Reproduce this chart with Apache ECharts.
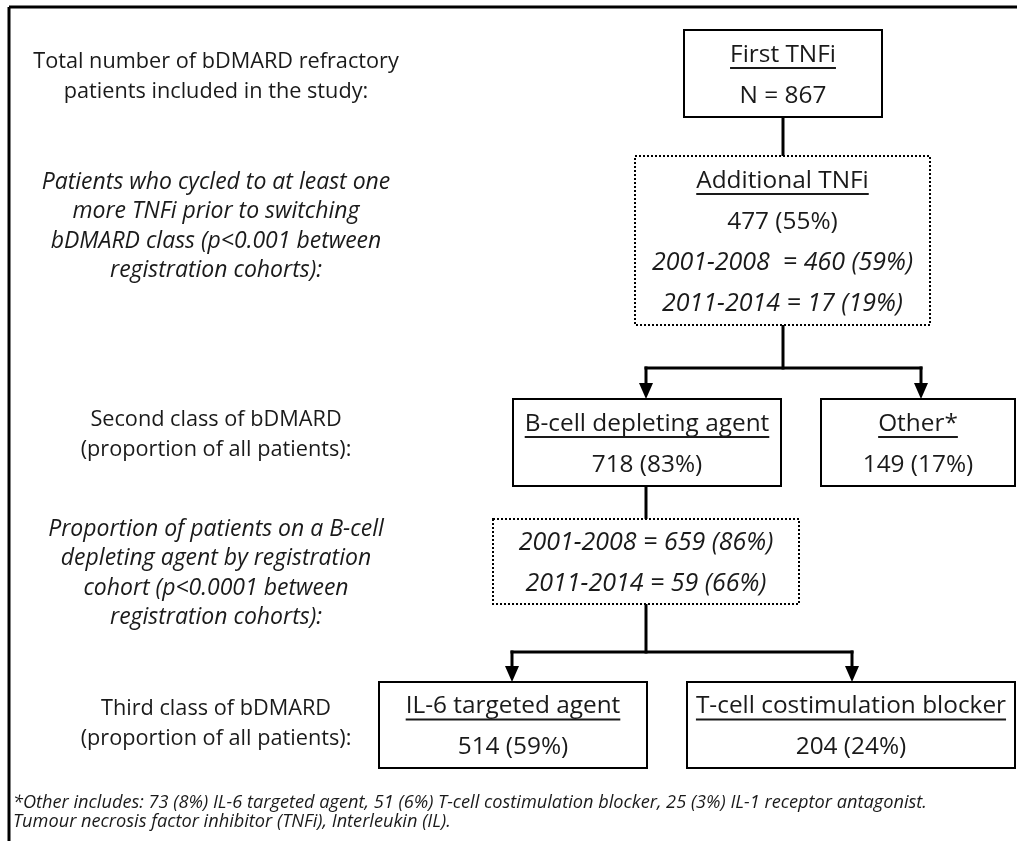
<!DOCTYPE html>
<html>
<head>
<meta charset="utf-8">
<title>bDMARD flow</title>
<script src="https://cdn.jsdelivr.net/npm/echarts@6/dist/echarts.min.js"></script>
<style>
  html, body { margin: 0; padding: 0; background: #fff; }
  #main { width: 1017px; height: 841px; }
</style>
</head>
<body>
<div id="main"></div>
<script>
// ---- data ----
// left column captions (one entry per stage)
var stageText = [
  ['Total number of bDMARD refractory', 'patients included in the study:'],
  ['Patients who cycled to at least one', 'more TNFi prior to switching', 'bDMARD class (p<0.001 between', 'registration cohorts):'],
  ['Second class of bDMARD', '(proportion of all patients):'],
  ['Proportion of patients on a B-cell', 'depleting agent by registration', 'cohort (p<0.0001 between', 'registration cohorts):'],
  ['Third class of bDMARD', '(proportion of all patients):']
]
var stageItalic = [false, true, false, true, false]

// boxes of the flow
var boxTitle = ['First TNFi', 'Additional TNFi', 'B-cell depleting agent', 'Other*', '', 'IL-6 targeted agent', 'T-cell costimulation blocker']
var boxN = [867, 477, 718, 149, null, 514, 204]
var boxPct = [null, 55, 83, 17, null, 59, 24]
// registration cohort breakdown 2001-2008 / 2011-2014
var cohortEarly = [null, [460, 59], null, null, [659, 86], null, null]
var cohortLate = [null, [17, 19], null, null, [59, 66], null, null]

var footnote = [
  '*Other includes: 73 (8%) IL-6 targeted agent, 51 (6%) T-cell costimulation blocker, 25 (3%) IL-1 receptor antagonist.',
  'Tumour necrosis factor inhibitor (TNFi), Interleukin (IL).'
]

// ---- layout (pixels, page coords) ----
var boxRect = [
  [684, 30, 882, 117],
  [635, 156, 930, 325],
  [513, 399, 781, 486],
  [821, 399, 1015, 486],
  [493, 519, 799, 604],
  [379, 682, 647, 768],
  [687, 682, 1015, 768]
]
var boxDotted = [false, true, false, false, true, false, false]
var stageY = [62, 182, 420, 529, 709]
var connectors = [
  // [x1, y1, x2, y2, arrow]
  [783, 117, 783, 156, 0],
  [783, 325, 783, 368, 0],
  [646, 368, 921, 368, 0],
  [646, 368, 646, 399, 1],
  [921, 368, 921, 399, 1],
  [646, 486, 646, 519, 0],
  [646, 604, 646, 652, 0],
  [512, 652, 852, 652, 0],
  [512, 652, 512, 682, 1],
  [852, 652, 852, 682, 1]
]

var FONT = '"Open Sans", "Noto Sans", sans-serif'
var measureCtx = document.createElement('canvas').getContext('2d')
function textWidth(str, font) {
  measureCtx.font = font
  return measureCtx.measureText(str).width
}

function boxLines(i) {
  var lines = []
  if (boxTitle[i]) lines.push({ text: boxTitle[i], underline: true, italic: false })
  if (boxN[i] != null) {
    var t = i === 0 ? 'N = ' + boxN[i] : boxN[i] + ' (' + boxPct[i] + '%)'
    lines.push({ text: t, underline: false, italic: false })
  }
  if (cohortEarly[i]) {
    var sep = i === 1 ? '  = ' : ' = '
    lines.push({ text: '2001-2008' + sep + cohortEarly[i][0] + ' (' + cohortEarly[i][1] + '%)', italic: true })
    lines.push({ text: '2011-2014 = ' + cohortLate[i][0] + ' (' + cohortLate[i][1] + '%)', italic: true })
  }
  return lines
}

var chart = echarts.init(document.getElementById('main'), null, { renderer: 'canvas' })

var boxData = boxRect.map(function (r, i) { return [r[0], r[1], r[2], r[3], i] })
var stageData = stageY.map(function (y, i) { return [216, y, i] })

chart.setOption({
  animation: false,
  backgroundColor: '#fff',
  grid: { left: 0, right: 0, top: 0, bottom: 0 },
  xAxis: { type: 'value', min: 0, max: 1017, show: false },
  yAxis: { type: 'value', min: 0, max: 841, inverse: true, show: false },
  graphic: [
    // frame (top and left edges only are inside the picture)
    { type: 'line', shape: { x1: 9, y1: 7, x2: 1017, y2: 7 }, style: { stroke: '#000', lineWidth: 3 } },
    { type: 'line', shape: { x1: 9, y1: 7, x2: 9, y2: 841 }, style: { stroke: '#000', lineWidth: 3 } },
    {
      type: 'text', left: 13, top: 794,
      style: { text: footnote.join('\n'), font: 'italic 18.2px ' + FONT, fill: '#1a1a1a', lineHeight: 18.5 }
    }
  ],
  series: [
    {
      type: 'custom',
      name: 'connectors',
      data: connectors,
      renderItem: function (params, api) {
        var p1 = api.coord([api.value(0), api.value(1)])
        var p2 = api.coord([api.value(2), api.value(3)])
        var arrow = api.value(4)
        var children = []
        var endY = arrow ? p2[1] - 15 : p2[1]
        children.push({
          type: 'line',
          shape: { x1: p1[0], y1: p1[1], x2: p2[0], y2: endY },
          style: { stroke: '#000', lineWidth: 3, lineCap: 'square' }
        })
        if (arrow) {
          children.push({
            type: 'polygon',
            shape: { points: [[p2[0] - 7, p2[1] - 16], [p2[0] + 7, p2[1] - 16], [p2[0], p2[1]]] },
            style: { fill: '#000' }
          })
        }
        return { type: 'group', children: children }
      }
    },
    {
      type: 'custom',
      name: 'boxes',
      data: boxData,
      renderItem: function (params, api) {
        var i = api.value(4)
        var a = api.coord([api.value(0), api.value(1)])
        var b = api.coord([api.value(2), api.value(3)])
        var children = [{
          type: 'rect',
          shape: { x: a[0], y: a[1], width: b[0] - a[0], height: b[1] - a[1] },
          style: boxDotted[i]
            ? { fill: '#fff', stroke: '#000', lineWidth: 2, lineDash: [2, 2] }
            : { fill: '#fff', stroke: '#000', lineWidth: 2 }
        }]
        var lines = boxLines(i)
        var cx = (a[0] + b[0]) / 2
        var lh = 41
        // text sits a little low in the source boxes
        var y0 = (a[1] + b[1]) / 2 - (lines.length - 1) * lh / 2 + 2
        lines.forEach(function (ln, k) {
          var font = (ln.italic ? 'italic 25px ' : '24.4px ') + FONT
          var y = y0 + k * lh
          children.push({
            type: 'text',
            style: { text: ln.text, x: cx, y: y, font: font, fill: '#1a1a1a', align: 'center', verticalAlign: 'middle' }
          })
          if (ln.underline) {
            var w = textWidth(ln.text, font)
            children.push({
              type: 'line',
              shape: { x1: cx - w / 2, y1: y + 13, x2: cx + w / 2, y2: y + 13 },
              style: { stroke: '#1a1a1a', lineWidth: 1.8 }
            })
          }
        })
        return { type: 'group', children: children }
      }
    },
    {
      type: 'custom',
      name: 'stages',
      data: stageData,
      renderItem: function (params, api) {
        var i = api.value(2)
        var p = api.coord([api.value(0), api.value(1)])
        var font = (stageItalic[i] ? 'italic 23px ' : '21.7px ') + FONT
        return {
          type: 'group',
          children: stageText[i].map(function (t, k) {
            return {
              type: 'text',
              style: { text: t, x: p[0], y: p[1] + k * 29.5, font: font, fill: '#1a1a1a', align: 'center', verticalAlign: 'middle' }
            }
          })
        }
      }
    }
  ]
})
</script>
</body>
</html>
